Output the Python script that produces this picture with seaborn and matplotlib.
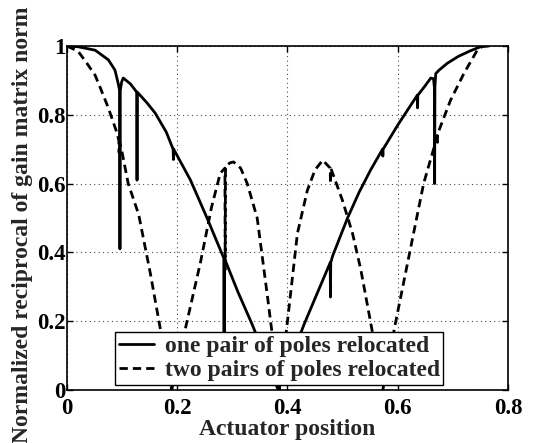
import numpy as np
import pandas as pd
import matplotlib
matplotlib.use("Agg")
import matplotlib.pyplot as plt
import seaborn as sns

# Data
x_one = [0.0, 0.02, 0.051, 0.075, 0.087, 0.093, 0.0955, 0.096, 0.0965, 0.099, 0.102, 0.115,
         0.1265, 0.127, 0.1275, 0.145, 0.16, 0.18, 0.1925, 0.193, 0.1935, 0.224, 0.254,
         0.2845, 0.285, 0.2855, 0.31, 0.336, 0.36, 0.383, 0.405, 0.43, 0.455, 0.4775, 0.478,
         0.4785, 0.482, 0.509, 0.53, 0.551, 0.5725, 0.573, 0.5735, 0.6, 0.6355, 0.636, 0.6365,
         0.65, 0.66, 0.665, 0.6665, 0.667, 0.6675, 0.669, 0.675, 0.69, 0.71, 0.73, 0.75, 0.765]
y_one = [1.0, 0.998, 0.988, 0.96, 0.93, 0.89, 0.87, 0.41, 0.87, 0.895, 0.907, 0.89,
         0.866, 0.61, 0.866, 0.835, 0.805, 0.75, 0.70, 0.67, 0.70, 0.61, 0.50,
         0.383, 0.12, 0.383, 0.285, 0.19, 0.095, 0.0, 0.085, 0.19, 0.285, 0.37, 0.27,
         0.37, 0.39, 0.50, 0.575, 0.64, 0.70, 0.68, 0.70, 0.77, 0.857, 0.82, 0.857,
         0.885, 0.907, 0.905, 0.88, 0.60, 0.88, 0.92, 0.93, 0.95, 0.97, 0.985, 0.998, 1.0]

x_two = [0.0, 0.02, 0.036, 0.051, 0.06, 0.075, 0.09, 0.094, 0.0945, 0.095, 0.1, 0.111,
         0.13, 0.151, 0.169, 0.19, 0.215, 0.242, 0.262, 0.278, 0.2865, 0.287, 0.2875,
         0.295, 0.302, 0.315, 0.327, 0.345, 0.363, 0.385, 0.40, 0.418, 0.436, 0.45, 0.464,
         0.4775, 0.478, 0.4785, 0.50, 0.518, 0.533, 0.551, 0.573, 0.596, 0.613, 0.63, 0.647,
         0.665, 0.6715, 0.672, 0.6725, 0.696, 0.72, 0.745, 0.755]
y_two = [1.0, 0.985, 0.95, 0.915, 0.88, 0.82, 0.75, 0.725, 0.69, 0.725, 0.69, 0.60,
         0.51, 0.34, 0.18, 0.0, 0.18, 0.37, 0.53, 0.63, 0.645, 0.35, 0.645,
         0.66, 0.663, 0.645, 0.60, 0.50, 0.28, 0.0, 0.20, 0.455, 0.58, 0.64, 0.668,
         0.645, 0.60, 0.645, 0.55, 0.455, 0.35, 0.195, 0.0, 0.195, 0.33, 0.465, 0.60,
         0.70, 0.74, 0.72, 0.745, 0.843, 0.92, 0.99, 1.0]

labels = ["one pair of poles relocated", "two pairs of poles relocated"]
x_ticks = [0, 0.2, 0.4, 0.6, 0.8]
x_ticklabels = ["0", "0.2", "0.4", "0.6", "0.8"]
y_ticks = [0, 0.2, 0.4, 0.6, 0.8, 1.0]
y_ticklabels = ["0", "0.2", "0.4", "0.6", "0.8", "1"]

sns.set_theme(style="white")
plt.rcParams['font.family'] = ['Liberation Serif', 'DejaVu Serif']
plt.rcParams['font.weight'] = 'bold'

FS = 17
DASH = (0, (3, 1.8))

fig = plt.figure(figsize=(5.45, 4.43), dpi=100)
ax = fig.add_axes([0.123, 0.12, 0.809, 0.776])

sns.lineplot(x=x_one, y=y_one, ax=ax, sort=False, estimator=None, color="black",
             linewidth=2.0, label=labels[0])
sns.lineplot(x=x_two, y=y_two, ax=ax, sort=False, estimator=None, color="black",
             linewidth=2.0, label=labels[1])
ax.lines[1].set_linestyle(DASH)

ax.set_xlim(0, 0.8)
ax.set_ylim(0, 1.0)
ax.set_xticks(x_ticks)
ax.set_xticklabels(x_ticklabels, fontsize=16.5, fontweight="bold")
ax.set_yticks(y_ticks)
ax.set_yticklabels(y_ticklabels, fontsize=16.5, fontweight="bold")
ax.tick_params(axis="x", pad=6)
ax.tick_params(axis="y", pad=1)
ax.tick_params(direction="in", length=4, width=1, top=True, right=True,
               bottom=True, left=True, colors="black")
ax.grid(True, linestyle=(0, (1, 3)), color="black", linewidth=0.8, alpha=0.7)
for s in ax.spines.values():
    s.set_color("black")
    s.set_linewidth(1.2)

ax.set_xlabel("Actuator position", fontsize=FS, fontweight="bold", labelpad=0)
ax.set_ylabel("Normalized reciprocal of gain matrix norm", fontsize=FS, fontweight="bold")
ax.yaxis.set_label_coords(-0.078, 0.48)

leg = ax.legend(loc="lower left", bbox_to_anchor=(0.109, 0.015), fontsize=FS,
                frameon=True, fancybox=False, edgecolor="black", framealpha=1,
                handlelength=1.5, borderpad=0.15, labelspacing=0.1, handletextpad=0.45,
                borderaxespad=0)
leg.get_frame().set_linewidth(1.0)
leg.get_lines()[1].set_linestyle(DASH)
for t in leg.get_texts():
    t.set_fontweight("bold")

fig.savefig("out.png", dpi=100)
